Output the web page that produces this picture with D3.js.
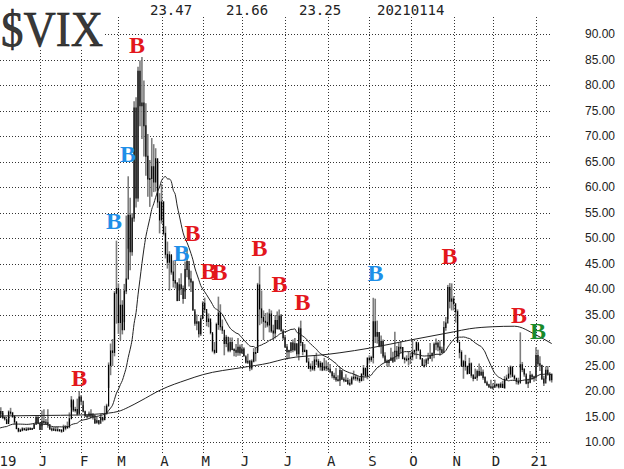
<!DOCTYPE html>
<html><head><meta charset="utf-8">
<script src="https://cdn.jsdelivr.net/npm/d3@7"></script>
<style>body{margin:0;background:#fff}svg{display:block}</style>
</head><body><svg id="c" width="624" height="469"></svg>
<script>
// ---- data (daily VIX, Dec 2 2019 .. Jan 14 2021) ----
const priorCloses = [12.30,12.83,13.10,12.62,12.73,12.07,12.69,12.68,13.00,13.05,12.05,12.46,12.86,12.78,12.98,12.34,11.87,11.54,11.75,12.62];
const closes = [
 14.91,15.96,14.80,14.52,13.62,15.86,15.68,14.99,13.94,12.63,12.14,12.29,12.58,12.50,12.51,12.61,12.67,12.65,13.43,14.82,13.78,
 12.47,14.02,13.85,13.79,13.45,12.54,12.56,12.32,12.39,12.42,12.32,12.10,12.85,12.91,12.98,14.56,18.23,16.28,16.39,15.49,18.84,
 17.97,16.05,15.15,14.96,15.47,15.04,15.18,13.74,14.15,13.68,14.83,14.38,15.56,17.08,25.03,27.85,27.56,39.16,40.11,
 33.42,36.82,31.99,39.62,41.94,54.46,47.30,53.90,75.47,57.83,82.69,75.91,76.45,72.00,66.04,61.59,61.67,63.95,61.00,65.54,57.08,53.54,
 57.06,50.91,46.80,45.24,46.70,43.35,41.67,41.17,37.76,40.84,40.11,38.15,43.83,45.41,41.98,41.38,35.93,33.29,33.57,31.23,34.15,
 37.19,35.97,33.61,34.12,31.44,27.98,27.57,33.04,35.28,32.61,31.89,29.30,30.53,27.99,29.53,28.16,28.01,27.62,28.59,27.51,
 28.23,26.84,25.66,25.81,24.52,25.81,27.57,27.57,40.79,36.09,34.40,33.67,33.47,32.94,35.12,31.77,31.37,33.84,32.22,34.73,31.78,30.43,
 28.62,27.68,27.94,29.43,28.08,29.26,27.29,32.19,29.52,27.76,28.00,25.68,24.46,24.84,24.32,26.08,25.84,24.74,25.44,24.10,24.76,24.46,
 24.28,23.76,22.99,22.65,22.21,22.13,24.03,22.28,22.13,22.05,21.35,21.51,22.54,22.72,22.54,22.37,22.03,23.27,24.47,22.96,26.41,
 26.12,26.57,33.60,30.75,31.46,28.81,29.71,26.87,25.85,25.59,26.04,26.46,25.83,27.78,26.86,28.58,28.51,26.38,26.19,26.27,26.37,
 26.70,27.63,27.96,29.48,28.06,26.36,25.00,25.07,26.07,26.40,26.97,27.41,29.18,29.35,28.65,28.11,27.55,32.46,33.35,40.28,37.59,38.02,
 37.13,35.55,29.57,27.58,24.86,25.75,24.80,23.45,25.35,23.10,22.45,22.71,23.84,23.11,23.70,22.66,21.64,21.25,20.84,20.57,
 20.77,21.17,21.28,20.79,21.30,20.68,22.27,22.52,23.31,24.72,22.89,22.50,21.93,21.57,25.16,24.23,23.31,21.53,21.70,23.08,22.77,22.75,
 26.97,25.34,25.07,22.37,21.56,24.08,23.33,22.21,23.25];
const highs = [
 15.25,16.8,15.7,15.0,14.3,16.2,16.7,15.9,15.3,14.0,12.8,12.6,12.9,12.8,12.9,12.9,12.9,12.8,13.5,15.1,15.2,
 13.6,16.2,16.4,14.5,16.4,13.1,12.9,12.9,13.0,13.0,12.5,12.5,13.4,13.3,14.0,15.8,19.0,18.0,16.9,18.5,19.99,
 19.2,17.2,16.0,15.3,16.0,16.4,15.7,14.5,15.0,14.3,15.5,14.7,17.1,17.5,25.6,29.3,30.2,39.6,49.48,
 41.1,39.9,37.8,41.0,54.4,62.1,57.9,54.9,76.8,77.6,83.56,84.8,85.47,80.9,76.4,70.4,65.3,69.6,68.4,67.6,65.1,58.8,
 60.6,57.2,52.3,49.3,47.4,46.6,45.6,45.6,41.3,42.1,43.1,40.7,45.4,47.8,43.8,43.6,41.6,35.6,35.0,33.6,34.9,
 37.6,38.3,35.4,35.2,33.5,31.2,29.6,33.4,38.5,37.0,34.0,30.5,31.0,29.4,30.5,30.5,28.4,29.2,30.4,29.1,
 29.2,28.6,26.7,27.3,26.1,26.2,28.4,28.5,41.2,44.44,39.7,35.8,35.3,35.4,36.1,35.8,33.0,34.9,35.6,36.0,35.1,32.1,
 31.0,29.2,28.1,29.6,30.1,30.4,29.3,32.6,33.8,29.2,29.2,28.0,26.5,25.4,25.9,27.0,27.5,26.3,25.9,25.6,26.5,26.0,
 25.6,25.3,23.8,23.6,24.5,23.1,24.6,23.8,22.7,23.3,22.6,22.3,22.9,24.0,23.3,23.0,22.7,23.5,25.1,24.4,26.6,
 27.0,26.9,38.28,38.1,33.8,31.5,30.9,30.1,27.6,26.2,26.1,28.5,27.7,31.6,28.8,29.4,29.8,28.6,26.7,27.0,27.8,
 27.5,30.2,28.1,29.7,29.2,27.7,26.2,26.2,26.4,27.5,29.4,27.5,29.5,30.3,29.7,29.9,28.7,33.7,34.5,40.8,41.16,41.1,
 38.6,36.0,36.0,28.3,28.0,26.1,27.1,25.0,26.5,25.6,23.3,24.4,24.2,25.4,24.7,24.2,22.9,22.0,21.4,22.2,
 21.5,22.2,21.5,21.5,21.7,22.0,22.9,23.2,24.7,25.0,24.6,23.2,22.4,22.6,31.5,25.7,24.5,23.0,22.4,23.9,23.4,23.0,
 28.6,28.1,26.8,25.1,23.0,24.8,24.9,23.7,23.47];
const lows = [
 12.70,15.45,14.5,14.2,13.5,13.9,15.3,14.7,13.4,12.5,11.9,12.0,12.1,12.3,12.2,12.3,12.4,12.4,12.6,13.6,13.5,
 12.4,13.1,13.5,13.4,12.8,12.4,12.1,12.2,12.2,12.1,12.0,11.8,12.6,12.3,12.6,12.7,16.8,15.9,15.8,15.2,15.6,
 17.2,15.8,14.9,14.6,15.1,14.9,14.4,13.6,13.8,13.4,14.3,14.0,14.3,15.4,20.6,23.1,24.9,26.8,33.2,
 31.2,30.0,31.1,33.5,39.0,47.9,43.7,46.5,53.2,56.0,57.1,71.9,69.4,66.0,62.2,58.1,56.1,58.1,59.0,59.1,55.9,50.9,
 52.8,50.5,46.0,44.0,39.7,42.8,40.3,40.1,37.6,39.7,38.8,37.1,39.5,42.3,40.5,39.4,35.7,32.8,31.9,30.5,30.8,
 34.2,35.3,32.7,32.5,31.1,27.6,27.2,27.5,32.0,31.9,31.2,27.0,28.6,27.6,27.6,28.0,26.8,26.7,26.9,26.9,
 27.3,26.8,25.4,25.3,23.9,24.1,25.6,25.8,27.9,32.9,33.2,30.0,32.4,32.5,31.5,31.4,30.0,30.3,32.1,32.0,31.7,30.0,
 28.5,26.2,26.4,27.5,27.6,27.8,26.8,26.0,28.8,27.0,27.6,25.6,24.3,23.8,24.0,23.9,25.1,24.5,24.0,23.9,24.5,23.9,
 23.9,23.5,22.5,22.2,21.8,21.9,21.0,22.2,21.7,21.8,21.3,21.0,21.2,22.1,22.0,21.9,21.6,21.9,22.0,22.8,22.3,
 25.4,25.7,25.4,29.4,29.3,28.6,27.3,26.4,25.5,24.8,24.7,25.9,25.5,27.6,26.2,26.3,27.4,26.2,25.4,25.8,25.0,
 25.3,26.0,27.0,26.3,27.8,26.1,24.9,24.6,25.5,25.3,26.3,25.8,26.4,28.0,27.8,26.9,27.4,28.9,31.8,34.1,36.2,35.8,
 35.8,33.4,29.5,26.4,24.8,22.4,24.0,23.2,23.5,22.6,21.9,22.4,22.0,22.9,23.1,22.2,21.6,21.0,20.6,20.5,
 20.3,20.6,20.7,20.5,20.6,20.6,20.4,22.1,22.7,22.6,22.7,22.0,21.3,21.2,24.6,23.7,22.8,21.3,20.6,21.5,22.2,21.8,
 22.0,24.8,23.9,22.2,21.0,22.4,23.0,21.9,21.66];

// 200-day moving average (trading-day index, value)
const ma200Idx = [0, 21, 42, 51, 61, 66, 72, 83, 96, 104, 124, 138, 146, 168, 174, 189, 210, 232, 240, 252, 263, 274, 282];
const ma200Val = [15.1, 15.2, 15.3, 15.5, 16.0, 16.8, 18.0, 20.3, 22.2, 23.2, 24.6, 25.5, 26.3, 27.2, 27.5, 28.4, 30.0, 31.6, 32.2, 32.6, 32.7, 31.0, 29.3];

// month gridlines (index of first trading day) and labels
const monthIdx = [0, 21, 42, 61, 83, 104, 124, 146, 168, 189, 210, 232, 252, 274];
const monthLabels = ["19","J","F","M","A","M","J","J","A","S","O","N","D","21"];
const yTicks = [10,15,20,25,30,35,40,45,50,55,60,65,70,75,80,85,90];

// header: high, low, close, date of last bar
const headerTexts = ["23.47","21.66","23.25","20210114"];

// buy signals
const sigIdx = [41, 70.5, 65.9, 58.7, 98.8, 93.2, 107, 112.6, 133, 143.2, 154.9, 192.1, 229.9, 265.3, 275];
const sigVal = [22.5, 87.8, 66.5, 53.3, 50.9, 47.0, 43.5, 43.3, 48.1, 41.0, 37.4, 43.2, 46.5, 34.9, 31.8];
const sigColor = ["red","red","blue","blue","red","blue","red","red","red","red","red","blue","red","red","green"];
const colorMap = {red:"#e3171c", blue:"#1f8fe8", green:"#198a2b"};

// ---- drawing ----
const svg = d3.select("#c");
const x = d3.scaleLinear().domain([21, 274]).range([40, 536]);
const y = d3.scaleLinear().domain([10, 90]).range([442, 34]);
const gridColor = "#333";

// horizontal gridlines
svg.append("g").selectAll("line").data(yTicks).join("line")
  .attr("x1", 0).attr("x2", 550)
  .attr("y1", d => Math.round(y(d)) + 0.5).attr("y2", d => Math.round(y(d)) + 0.5)
  .attr("stroke", gridColor).attr("stroke-width", 1).attr("stroke-dasharray", "1,2");
// vertical gridlines
svg.append("g").selectAll("line").data(monthIdx).join("line")
  .attr("x1", d => Math.round(x(d)) + 0.5).attr("x2", d => Math.round(x(d)) + 0.5)
  .attr("y1", 17).attr("y2", 453)
  .attr("stroke", gridColor).attr("stroke-width", 1).attr("stroke-dasharray", "1,2");

// bars
const bars = svg.append("g");
closes.forEach((c, i) => {
  const o = i === 0 ? priorCloses[priorCloses.length - 1] : closes[i - 1];
  const cx = x(i);
  bars.append("line").attr("x1", cx).attr("x2", cx)
    .attr("y1", y(highs[i])).attr("y2", y(lows[i]))
    .attr("stroke", "#7d7d7d").attr("stroke-width", 1.6);
  const y1 = y(Math.max(o, c)), y2 = y(Math.min(o, c));
  bars.append("line").attr("x1", cx).attr("x2", cx)
    .attr("y1", y1 - 0.5).attr("y2", Math.max(y2, y1 + 1) + 0.5)
    .attr("stroke", "#000").attr("stroke-width", 1.2);
});

// 20-day simple moving average of closes
const allCloses = priorCloses.concat(closes);
const off = priorCloses.length;
const ma20 = closes.map((c, i) => d3.mean(allCloses.slice(off + i - 19, off + i + 1)));
svg.append("path").datum(ma20)
  .attr("d", d3.line().x((d, i) => x(i)).y(d => y(d)).curve(d3.curveMonotoneX))
  .attr("fill", "none").attr("stroke", "#222").attr("stroke-width", 1);
// 200-day moving average
svg.append("path").datum(ma200Idx.map((d, i) => [d, ma200Val[i]]))
  .attr("d", d3.line().x(d => x(d[0])).y(d => y(d[1])).curve(d3.curveMonotoneX))
  .attr("fill", "none").attr("stroke", "#222").attr("stroke-width", 1);

// signals
svg.append("g").selectAll("text").data(sigIdx).join("text")
  .attr("x", d => x(d)).attr("y", (d, i) => y(sigVal[i]))
  .attr("text-anchor", "middle").attr("dominant-baseline", "central")
  .attr("font-family", "Liberation Serif, serif").attr("font-weight", "bold").attr("font-size", 24)
  .attr("fill", (d, i) => colorMap[sigColor[i]])
  .text("B");

// title box
svg.append("rect").attr("x", 0).attr("y", 0).attr("width", 105).attr("height", 48).attr("fill", "#fff");
svg.append("text").attr("x", 1).attr("y", 46)
  .attr("font-family", "Liberation Serif, serif").attr("font-size", 50)
  .attr("textLength", 102).attr("lengthAdjust", "spacingAndGlyphs")
  .attr("fill", "#3a3a3a").attr("stroke", "#111").attr("stroke-width", 0.6)
  .text("$VIX");

// header values
const headerX = [150, 226, 299, 377];
svg.append("g").selectAll("text").data(headerTexts).join("text")
  .attr("x", (d, i) => headerX[i]).attr("y", 15)
  .attr("font-family", "DejaVu Sans Mono, monospace").attr("font-size", 14).attr("fill", "#222")
  .text(d => d);

// right axis
const yAxis = svg.append("g").attr("transform", "translate(585,0)")
  .call(d3.axisRight(y).tickValues(yTicks).tickFormat(d3.format(".2f")).tickSize(0).tickPadding(0));
yAxis.select(".domain").remove();
yAxis.selectAll("text").attr("font-family", "Liberation Sans, sans-serif").attr("font-size", 12).attr("fill", "#222");

// bottom axis
const xAxis = svg.append("g").attr("transform", "translate(0,453)")
  .call(d3.axisBottom(x).tickValues(monthIdx).tickFormat((d, i) => monthLabels[i]).tickSize(0).tickPadding(3));
xAxis.select(".domain").remove();
xAxis.selectAll(".tick").attr("transform", d => `translate(${Math.max(x(d) + 3, 8)},0)`);
xAxis.selectAll("text").attr("font-family", "DejaVu Sans Mono, monospace").attr("font-size", 14).attr("fill", "#222");
</script></body></html>
